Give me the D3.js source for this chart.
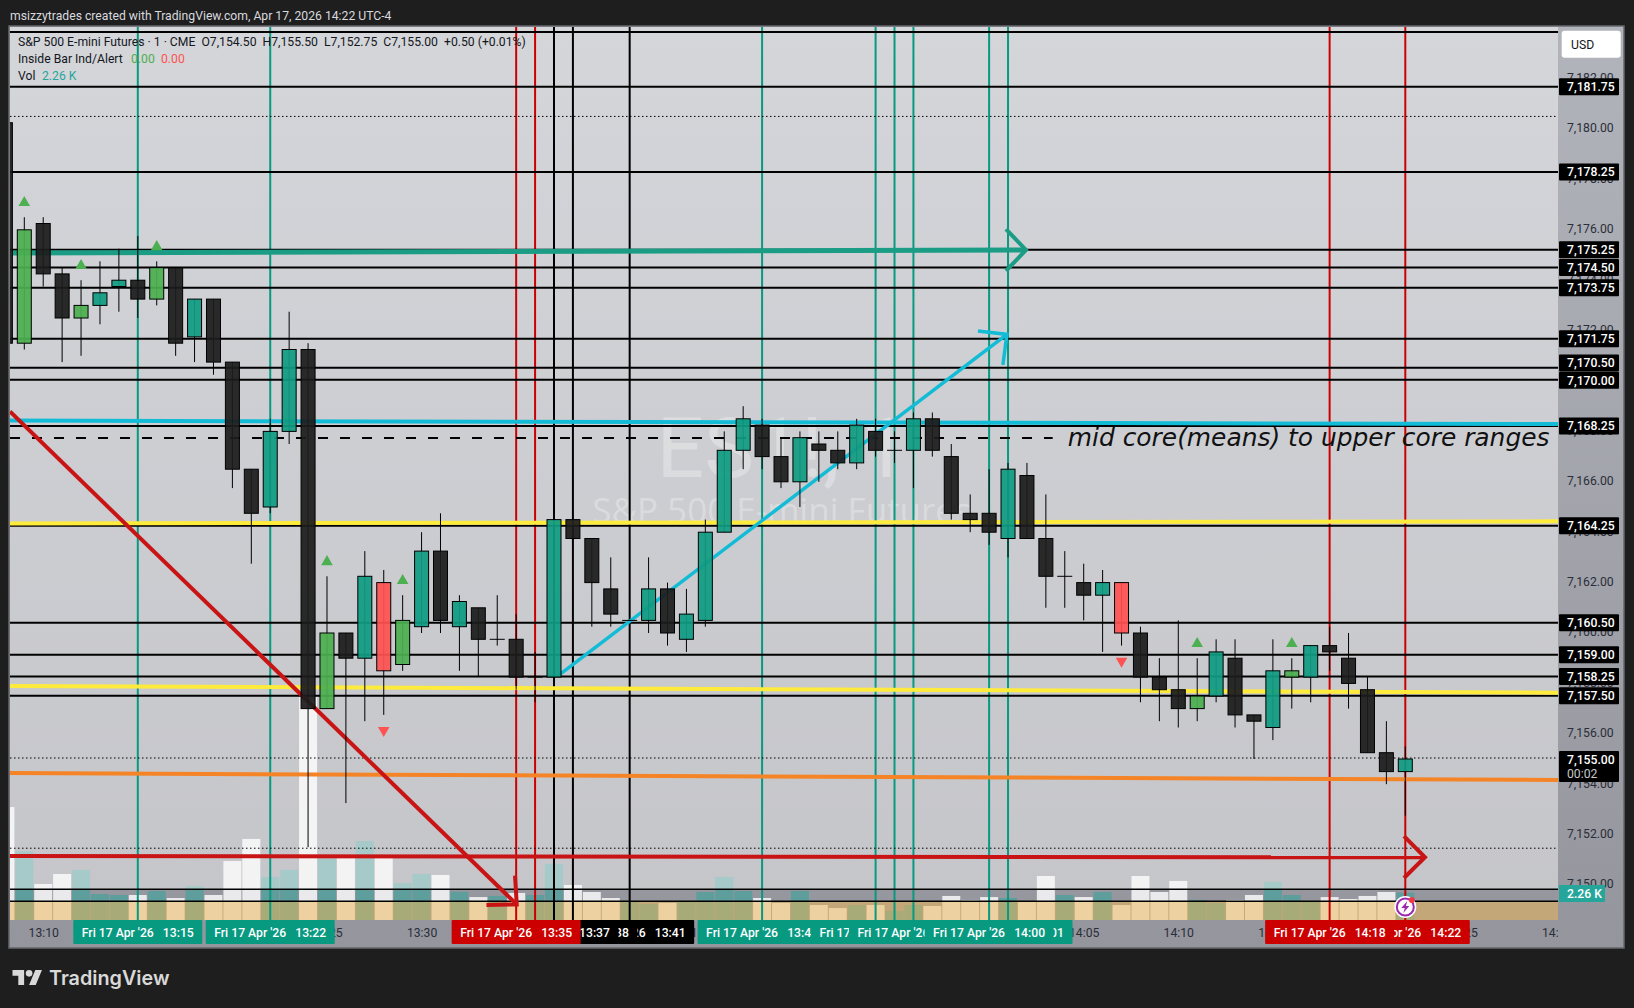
<!DOCTYPE html>
<html><head><meta charset="utf-8">
<script src="https://cdn.jsdelivr.net/npm/d3@7/dist/d3.min.js"></script>
<style>
html,body{margin:0;padding:0;background:#1e1e1e;overflow:hidden}
svg{display:block;font-family:Roboto,"Noto Sans",sans-serif}
</style></head><body>
<svg id="c" width="1634" height="1008"></svg>
<script>
// ---- bars: 13:08 onward, minute of the hour-13 clock
const firstMinute = 8;
const barKinds = ["d","g","d","d","g","t","t","d","g","d","t","d","d","d","t","t","d","g","d","t","r","g","t","d","t","d","n","d","n","t","d","d","d","n","t","d","t","t","t","t","d","d","t","d","d","t","d","n","t","d","d","d","d","t","d","d","n","d","t","r","d","d","d","g","t","d","d","t","g","t","d","d","d","d","t"];
const opens  = [7180.25,7171.5,7176.25,7174.25,7172.5,7173,7173.75,7174,7173.25,7174.5,7171.75,7173.25,7170.75,7166.5,7165,7168,7171.25,7157,7160,7159,7162,7158.75,7160.25,7163.25,7160.25,7161,7159.75,7159.75,7158.25,7158.25,7164.5,7163.75,7161.75,7160.5,7160.5,7161.75,7159.75,7160.5,7164,7167.25,7168.25,7167,7166,7167.5,7167.25,7166.75,7168,7167.25,7167.25,7168.5,7167,7164.75,7164.75,7163.75,7166.25,7163.75,7162.25,7162,7161.5,7162,7160,7158.25,7157.75,7157,7157.5,7159,7156.75,7156.25,7158.25,7158.25,7159.5,7159,7157.75,7155.25,7154.5];
const highs  = [7180.25,7176.5,7176.5,7174.5,7174,7174.75,7175.25,7175.75,7174.75,7174.5,7173.25,7173.25,7170.75,7166.5,7168.5,7172.75,7171.5,7162.25,7160,7163.25,7162.5,7161.5,7164,7164.75,7161.5,7161,7161.5,7160.75,7159.25,7164.5,7164.5,7163.75,7163,7160.5,7163,7162,7161.75,7164.5,7168,7169,7168.5,7167.75,7168,7168,7168,7168.5,7168.5,7168,7168.75,7168.75,7167.5,7165.5,7166.5,7166.75,7166.75,7165.5,7163.25,7162.75,7162.5,7162,7160.25,7159,7160.5,7159,7159.75,7159.75,7156.75,7159.75,7159,7159.5,7160.25,7160,7158.25,7156.5,7155.5];
const lows   = [7171.5,7171.25,7173.75,7170.75,7171,7172.25,7172.75,7172.5,7173,7171,7170.75,7170.25,7165.75,7162.75,7164.75,7167.5,7151.5,7157,7153.25,7156.5,7156.75,7158.5,7160,7160,7158.5,7158.25,7159.5,7157.75,7157.25,7158,7163.75,7160.25,7160.25,7160.5,7160,7159.5,7159.25,7160.25,7164,7166.5,7166.5,7165.75,7165,7166,7166.5,7166.5,7167,7166.75,7165.75,7167,7164.5,7164,7163.5,7163,7163.75,7161,7161,7160.5,7159.25,7159.5,7157.25,7156.5,7156.25,7156.5,7157.25,7156.25,7155,7155.75,7157,7157.25,7158.5,7157,7155.25,7154,7152.75];
const closes = [7171.5,7176,7174.25,7172.5,7173,7173.5,7174,7173.25,7174.5,7171.5,7173.25,7170.75,7166.5,7164.75,7168,7171.25,7157,7160,7159,7162.25,7158.5,7160.5,7163.25,7160.5,7161.25,7159.75,7159.75,7158.25,7158.25,7164.5,7163.75,7162,7160.75,7160.5,7161.75,7160,7160.75,7164,7167.25,7168.5,7167,7166,7167.75,7167.25,7166.75,7168.25,7167.25,7167.25,7168.5,7167.25,7164.75,7164.5,7164,7166.5,7163.75,7162.25,7162.25,7161.5,7162,7160,7158.25,7157.75,7157,7157.5,7159.25,7156.75,7156.5,7158.5,7158.5,7159.5,7159.25,7158,7155.25,7154.5,7155];
const volumes = [9.35,5.69,2.98,3.81,4.14,2.15,2.07,2.07,2.40,1.82,2.81,2.07,4.88,6.71,3.56,4.14,18.46,5.07,5.13,6.54,5.13,3.06,3.81,3.73,2.34,1.90,1.99,2.24,2.07,4.64,2.90,2.32,1.82,1.57,1.32,1.41,1.49,2.32,3.56,2.40,1.82,1.41,2.40,1.24,0.99,1.24,1.24,0.75,1.24,1.16,1.99,1.66,1.90,1.82,1.49,3.64,2.07,1.90,2.32,1.24,3.64,2.32,3.23,1.66,1.41,1.66,2.07,3.15,2.07,1.49,1.90,1.74,1.99,2.32,2.26];
const insideUpMinutes = [9,12,16,25,29,71,76];
const insideDownMinutes = [28,67];

// ---- levels
const levelPrices = [7181.64,7178.25,7175.17,7174.46,7173.66,7171.64,7170.49,7170.01,7168.17,7164.22,7160.37,7159.10,7158.23,7157.47];
const levelLabels = ["7,181.75","7,178.25","7,175.25","7,174.50","7,173.75","7,171.75","7,170.50","7,170.00","7,168.25","7,164.25","7,160.50","7,159.00","7,158.25","7,157.50"];
const levelLabelPrices = [7181.64,7178.25,7175.17,7174.46,7173.66,7171.64,7170.67,7169.99,7168.17,7164.22,7160.37,7159.10,7158.23,7157.47];
const extraLevels = [7183.81,7149.79,7149.32];
const dottedLevels = [7180.46,7155,7151.42];
const dashedLevel = 7167.70;
const priceTicks = d3.range(7150,7183,2);
const timeTicks = d3.range(10,95,5);

// ---- vertical markers (minutes after 13:00)
const tealMarks = [15,22,48,54,55,56,60,61];
const redMarks = [35,36,78,82];
const blackMarks = [37,38,41];
// time tags in paint order
const tagMinutes = [41,38,37,35,61,55,48,54,56,60,82,78,15,22];
const tagKinds   = ["k","k","k","r","t","t","t","t","t","t","r","r","t","t"];

// ---- drawn trend lines [minute, price]
const tealArrow = [[8.35,7175.04],[61.95,7175.16]];
const tealHead = [[60.89,7175.99],[61.95,7175.16],[60.89,7174.33]];
const cyanFlat = [[8.24,7168.39],[90.07,7168.25]];
const yellowTop = [[8.24,7164.31],[90.07,7164.39]];
const yellowLow = [[8.24,7157.86],[90.07,7157.59]];
const orangeFlat = [[8.24,7154.40],[90.07,7154.13]];
const redFlat = [[8.24,7151.11],[83.04,7151.06]];
const redFlatHead = [[81.93,7151.90],[83.04,7151.06],[81.93,7150.24]];
const redDiag = [[8.24,7168.75],[35.03,7149.19]];
const redDiagHead = [[33.43,7149.17],[35.03,7149.19],[34.94,7150.33]];
const cyanDiag = [[37.26,7158.29],[60.94,7171.81]];
const cyanDiagHead = [[59.41,7171.94],[60.94,7171.81],[60.73,7170.60]];
const noteText = "mid core(means) to upper core ranges";

const barMinutes = opens.map((_,i)=>firstMinute+i);
const fmtTime = m => { const h=13+Math.floor(m/60), mm=m%60; return h+":"+(mm<10?"0":"")+mm; };

// layout
const L=10,R=1558,T=27,B=920,PR=1623,PB=947,ZONE1=889,ZONE2=901;
const x = d3.scaleLinear([9,82],[24.3,1405.3]);
const y = d3.scaleLinear([7152,7180],[833.6,128]);
const v = d3.scaleLinear([0,2.26],[B,892.7]);
const svg = d3.select("#c");
const defs = svg.append("defs");
const grad = defs.append("linearGradient").attr("id","bg").attr("x1",0).attr("x2",0).attr("y1",0).attr("y2",1);
grad.append("stop").attr("offset",0).attr("stop-color","#b2b4bc");
grad.append("stop").attr("offset",1).attr("stop-color","#94959d");
defs.append("clipPath").attr("id","plot").append("rect").attr("x",L).attr("y",T).attr("width",R-L).attr("height",B-T);
defs.append("clipPath").attr("id","tx").append("rect").attr("x",L).attr("y",B).attr("width",R-L).attr("height",PB-B);

// title
svg.append("text").attr("x",10).attr("y",19.5).attr("fill","#d8d9de").attr("font-size",12.2).text("msizzytrades created with TradingView.com, Apr 17, 2026 14:22 UTC-4");

// pane
svg.append("rect").attr("x",L-1).attr("y",T-1).attr("width",PR-L+2).attr("height",PB-T+2).attr("fill","url(#bg)").attr("stroke","#66676b").attr("stroke-width",1.5);

const plot = svg.append("g").attr("clip-path","url(#plot)");
const isUp = k => k==="t"||k==="g"||k==="n";
// volume
plot.append("g").selectAll("rect").data(volumes).join("rect")
  .attr("x",(d,i)=>x(barMinutes[i])-9).attr("width",18)
  .attr("y",d=>v(d)).attr("height",d=>B-v(d))
  .attr("fill",(d,i)=>isUp(barKinds[i])?"#26a69a":"#ffffff")
  .attr("fill-opacity",(d,i)=>isUp(barKinds[i])?0.5:0.8);
// overlays
plot.append("rect").attr("x",L).attr("y",T).attr("width",R-L).attr("height",ZONE1-T).attr("fill","#fff").attr("fill-opacity",0.45);
plot.append("rect").attr("x",L).attr("y",ZONE2).attr("width",R-L).attr("height",B-ZONE2).attr("fill","rgb(242,183,84)").attr("fill-opacity",0.5);

// watermark
plot.append("text").attr("x",782).attr("y",477).attr("text-anchor","middle").attr("font-size",84).attr("fill","#fff").attr("fill-opacity",.3).text("ES1!, 1");
plot.append("text").attr("x",782).attr("y",523).attr("text-anchor","middle").attr("font-size",35).style("font-family","Open Sans").attr("fill","#fff").attr("fill-opacity",.3).text("S&P 500 E-mini Futures");

// price axis ticks
const ay = svg.append("g").attr("transform",`translate(${R},0)`).call(d3.axisRight(y).tickValues(priceTicks).tickSize(0).tickPadding(9).tickFormat(d3.format(",.2f")));
ay.select(".domain").remove();
ay.selectAll("text").attr("fill","#2a2e39").attr("font-size",12.2).attr("font-family","Roboto");

// time axis
const ax = svg.append("g").attr("clip-path","url(#tx)").append("g").attr("transform",`translate(0,${B})`).call(d3.axisBottom(x).tickValues(timeTicks).tickSize(0).tickPadding(8).tickFormat(fmtTime));
ax.select(".domain").remove();
ax.selectAll("text").attr("fill","#2a2e39").attr("font-size",12.2).attr("font-family","Roboto");

// vertical markers
const vline=(arr,col)=>plot.append("g").selectAll("line").data(arr).join("line")
  .attr("x1",d=>x(d)).attr("x2",d=>x(d)).attr("y1",T).attr("y2",B).attr("stroke",col).attr("stroke-width",2);
vline(tealMarks,"#089981"); vline(redMarks,"#cc0000"); vline(blackMarks,"#000");

// horizontals
const hline=(arr,w)=>plot.append("g").selectAll("line").data(arr).join("line")
  .attr("x1",L).attr("x2",R).attr("y1",d=>y(d)).attr("y2",d=>y(d)).attr("stroke","#000").attr("stroke-width",w);
hline(levelPrices,2); hline(extraLevels.slice(0,1),2); hline(extraLevels.slice(1),1.5);
hline(dottedLevels,1).attr("stroke-dasharray","1.5 2.5");
plot.append("line").attr("x1",L).attr("x2",x(63.36)).attr("y1",y(dashedLevel)).attr("y2",y(dashedLevel)).attr("stroke","#000").attr("stroke-width",2).attr("stroke-dasharray","10 12");

// trend lines
const path = d3.line().x(d=>x(d[0])).y(d=>y(d[1]));
const draw=(pts,col,w)=>plot.append("path").attr("d",path(pts)).attr("fill","none").attr("stroke",col).attr("stroke-width",w);
draw(yellowTop,"#ffeb3b",4); draw(yellowLow,"#ffeb3b",4);
draw(orangeFlat,"#f58426",4);
draw(cyanFlat,"#12bcd6",4);
draw(tealArrow,"#1a9c85",5); draw(tealHead,"#1a9c85",4);
draw(cyanDiag,"#12bcd6",3.5); draw(cyanDiagHead,"#12bcd6",3.5);
draw(redFlat,"#c81414",4); draw(redFlatHead,"#c81414",4);
draw(redDiag,"#c81414",4); draw(redDiagHead,"#c81414",4);

// candles
const fillOf={t:"#0f9b82",d:"#1c1c1c",g:"#4caf50",r:"#ff5252",n:"#000"};
const c = plot.append("g").attr("transform","translate(0,1)");
c.selectAll("line.w").data(opens).join("line").attr("class","w")
  .attr("x1",(d,i)=>x(barMinutes[i])).attr("x2",(d,i)=>x(barMinutes[i]))
  .attr("y1",(d,i)=>y(highs[i])).attr("y2",(d,i)=>y(lows[i])).attr("stroke","#000").attr("stroke-width",1);
c.selectAll("rect").data(opens.map((d,i)=>i).filter(i=>barKinds[i]!=="n")).join("rect")
  .attr("x",i=>x(barMinutes[i])-7).attr("width",14)
  .attr("y",i=>y(Math.max(opens[i],closes[i]))).attr("height",i=>Math.abs(y(opens[i])-y(closes[i])))
  .attr("fill",i=>fillOf[barKinds[i]]).attr("fill-opacity",.93).attr("stroke","#000").attr("stroke-width",1);
c.selectAll("line.d").data(opens.map((d,i)=>i).filter(i=>barKinds[i]==="n")).join("line").attr("class","d")
  .attr("x1",i=>x(barMinutes[i])-7.5).attr("x2",i=>x(barMinutes[i])+7.5)
  .attr("y1",i=>y(opens[i])).attr("y2",i=>y(opens[i])).attr("stroke","#000").attr("stroke-width",1);

// inside-bar markers
const tri=d3.symbol().type(d3.symbolTriangle).size(58);
plot.append("g").selectAll("path").data(insideUpMinutes).join("path").attr("d",tri)
  .attr("transform",m=>`translate(${x(m)},${y(highs[m-firstMinute])-13.5})`).attr("fill","#4caf50");
plot.append("g").selectAll("path").data(insideDownMinutes).join("path").attr("d",tri)
  .attr("transform",m=>`translate(${x(m)},${y(lows[m-firstMinute])+16.5}) rotate(180)`).attr("fill","#ff5252");

// note
plot.append("text").attr("x",x(64.16)).attr("y",y(dashedLevel)+8.5).style("font-family","DejaVu Sans").attr("font-style","italic").attr("font-size",24.9).attr("fill","#111").text(noteText);

// legend
const lg=svg.append("g").attr("font-size",12.2).attr("fill","#131722");
lg.append("text").attr("x",18).attr("y",46).attr("xml:space","preserve").text("S&P 500 E-mini Futures · 1 · CME  O7,154.50  H7,155.50  L7,152.75  C7,155.00  +0.50 (+0.01%)");
lg.append("text").attr("x",18).attr("y",63).text("Inside Bar Ind/Alert");
lg.append("text").attr("x",131).attr("y",63).attr("fill","#4caf50").text("0.00");
lg.append("text").attr("x",161).attr("y",63).attr("fill","#ff5252").text("0.00");
lg.append("text").attr("x",18).attr("y",80).text("Vol");
lg.append("text").attr("x",42).attr("y",80).attr("fill","#26a69a").text("2.26 K");

// time tags
const tagCol={t:"#089981",r:"#cc0000",k:"#000"};
const tg=svg.append("g").selectAll("g").data(tagMinutes).join("g").attr("transform",m=>`translate(${x(m)-64.5},${B})`);
tg.append("rect").attr("width",129).attr("height",24).attr("rx",1).attr("fill",(m,i)=>tagCol[tagKinds[i]]);
tg.append("text").attr("x",8.5).attr("y",17).attr("fill","#fff").attr("font-size",12.2).attr("font-weight",500).text("Fri 17 Apr '26");
tg.append("text").attr("x",105).attr("y",17).attr("text-anchor","middle").attr("fill","#fff").attr("font-size",12.2).attr("font-weight",500).text(fmtTime);

// price labels
const pl=svg.append("g").selectAll("g").data(levelLabels).join("g").attr("transform",(d,i)=>`translate(1559,${y(levelLabelPrices[i])})`);
pl.append("rect").attr("y",-8.5).attr("width",60).attr("height",17).attr("rx",1).attr("fill","#000");
pl.append("text").attr("x",8).attr("y",4.3).attr("fill","#fff").attr("font-size",12.2).attr("font-weight",500).text(d=>d);
// last price
const lp=svg.append("g").attr("transform",`translate(1559,751)`);
lp.append("rect").attr("width",60).attr("height",31).attr("rx",1).attr("fill","#000");
lp.append("text").attr("x",8).attr("y",13).attr("fill","#fff").attr("font-size",12.2).attr("font-weight",500).text("7,155.00");
lp.append("text").attr("x",8).attr("y",27).attr("fill","#c8c8c8").attr("font-size",12.2).text("00:02");
// volume label
const vl=svg.append("g").attr("transform","translate(1559,885)");
vl.append("rect").attr("width",46).attr("height",17).attr("fill","#26a69a");
vl.append("text").attr("x",8).attr("y",13).attr("fill","#fff").attr("font-size",12.2).attr("font-weight",500).text("2.26 K");
// USD
svg.append("rect").attr("x",1561.7).attr("y",30.7).attr("width",59).attr("height",27).attr("rx",3).attr("fill","#fff");
svg.append("text").attr("x",1571).attr("y",49).attr("fill","#131722").attr("font-size",12.2).text("USD");

// alert icon
const ic=svg.append("g").attr("transform",`translate(${x(82)},907)`);
ic.append("circle").attr("r",11).attr("fill","#fff");
ic.append("circle").attr("r",8.5).attr("fill","#fff").attr("stroke","#9c27b0").attr("stroke-width",2);
ic.append("path").attr("d","M2,-6 L-4,1 L-0.5,1 L-2,6 L4,-1 L0.5,-1 Z").attr("fill","#9c27b0");
ic.append("circle").attr("cx",6.5).attr("cy",-7).attr("r",3).attr("fill","#f23645");

// TradingView logo
const lgo=svg.append("g").attr("transform","translate(12.5,966.7) scale(0.83)").attr("fill","#d9d9d9");
lgo.append("path").attr("d","M14 22H7V11H0V4h14v18zM28 22h-8l7.5-18h8L28 22z");
lgo.append("circle").attr("cx",20).attr("cy",8).attr("r",4);
svg.append("text").attr("x",49).attr("y",985).attr("fill","#d9d9d9").style("font-family","Inter").attr("font-weight",600).attr("font-size",19.8).text("TradingView");
</script>
</body></html>
